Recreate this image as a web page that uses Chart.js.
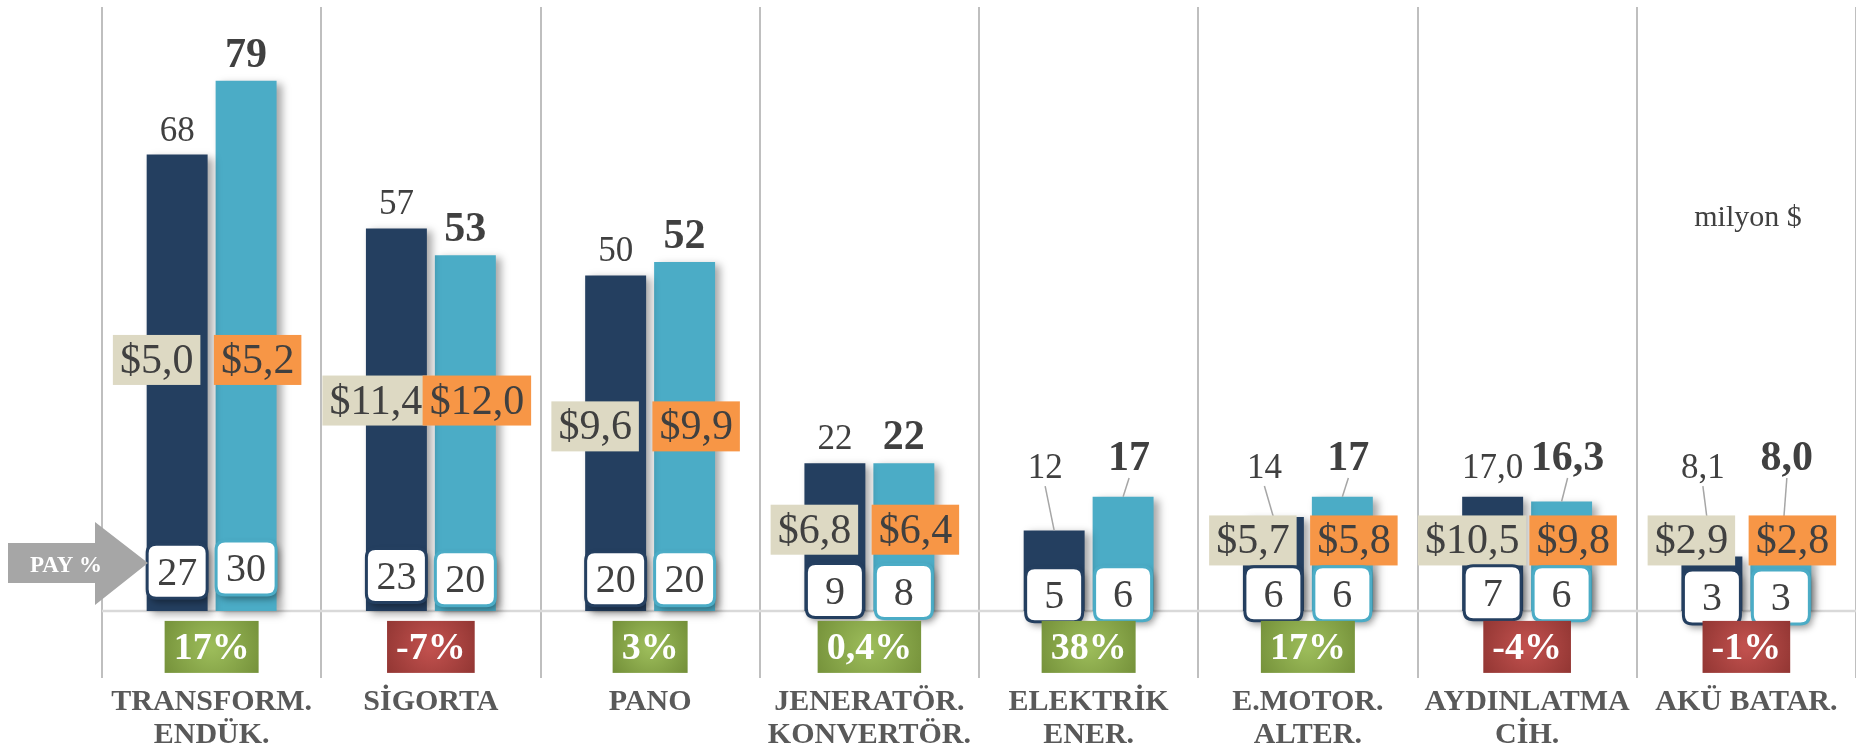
<!DOCTYPE html>
<html>
<head>
<meta charset="utf-8">
<script src="https://cdn.jsdelivr.net/npm/chart.js@4.4.1/dist/chart.umd.min.js"></script>
<style>
  html, body { margin: 0; padding: 0; background: #fff; }
  #kutu { width: 1856px; height: 752px; }
</style>
</head>
<body>
<div id="kutu"><canvas id="grafik"></canvas></div>
<script>
// kategoriler
const kategoriler = [
    ['TRANSFORM.', 'ENDÜK.'],
    ['SİGORTA'],
    ['PANO'],
    ['JENERATÖR.', 'KONVERTÖR.'],
    ['ELEKTRİK', 'ENER.'],
    ['E.MOTOR.', 'ALTER.'],
    ['AYDINLATMA', 'CİH.'],
    ['AKÜ BATAR.']
];

// milyon $ - onceki donem / son donem
const oncekiDeger = [68, 57, 50, 22, 12, 14, 17.0, 8.1];
const sonDeger = [79, 53, 52, 22, 17, 17, 16.3, 8.0];
const ondalik = [0, 0, 0, 0, 0, 0, 1, 1];

// $ kutulari
const oncekiDolar = [5.0, 11.4, 9.6, 6.8, null, 5.7, 10.5, 2.9];
const sonDolar = [5.2, 12.0, 9.9, 6.4, null, 5.8, 9.8, 2.8];

// PAY %
const oncekiPay = [27, 23, 20, 9, 5, 6, 7, 3];
const sonPay = [30, 20, 20, 8, 6, 6, 6, 3];

// degisim %
const degisim = [17, -7, 3, 0.4, 38, 17, -4, -1];

const koyuRenk = '#243F60';
const acikRenk = '#4BACC6';
const yazi = '"Liberation Serif", "Times New Roman", serif';

function sayi(v, d) {
    return v.toFixed(d).replace('.', ',');
}

function yuvarlakKutu(ctx, x, y, w, h, r) {
    ctx.beginPath();
    ctx.moveTo(x + r, y);
    ctx.lineTo(x + w - r, y);
    ctx.quadraticCurveTo(x + w, y, x + w, y + r);
    ctx.lineTo(x + w, y + h - r);
    ctx.quadraticCurveTo(x + w, y + h, x + w - r, y + h);
    ctx.lineTo(x + r, y + h);
    ctx.quadraticCurveTo(x, y + h, x, y + h - r);
    ctx.lineTo(x, y + r);
    ctx.quadraticCurveTo(x, y, x + r, y);
    ctx.closePath();
}

const ekler = {
    id: 'ekler',
    beforeDatasetsDraw(chart) {
        const ctx = chart.ctx;
        const y0 = chart.scales.y.getPixelForValue(0);
        // taban cizgisi
        ctx.save();
        ctx.strokeStyle = '#D9D9D9';
        ctx.lineWidth = 2.5;
        ctx.beginPath();
        ctx.moveTo(chart.chartArea.left, y0);
        ctx.lineTo(chart.chartArea.right, y0);
        ctx.stroke();
        ctx.restore();
        // cubuk golgesi
        ctx.save();
        ctx.shadowColor = 'rgba(0,0,0,0.35)';
        ctx.shadowBlur = 8;
        ctx.shadowOffsetX = 5;
        ctx.shadowOffsetY = 3;
    },
    afterDatasetsDraw(chart) {
        const ctx = chart.ctx;
        ctx.restore();
        const xs = chart.scales.x;
        const ys = chart.scales.y;
        const y0 = ys.getPixelForValue(0);

        // deger etiketleri
        [oncekiDeger, sonDeger].forEach((seri, i) => {
            const meta = chart.getDatasetMeta(i);
            const kalin = i === 1;
            meta.data.forEach((bar, j) => {
                const tavan = ys.getPixelForValue(kalin ? 21 : 19.8);
                const taban = Math.min(bar.y - 14, tavan);
                let lx = bar.x;
                if (bar.y - taban > 20) {
                    lx = bar.x + (kalin ? 6 : -9);
                    ctx.save();
                    ctx.strokeStyle = '#A6A6A6';
                    ctx.lineWidth = 1.5;
                    ctx.beginPath();
                    ctx.moveTo(lx, taban + 8);
                    ctx.lineTo(bar.x, bar.y);
                    ctx.stroke();
                    ctx.restore();
                }
                ctx.save();
                ctx.fillStyle = '#404040';
                ctx.font = (kalin ? 'bold 42px ' : '35px ') + yazi;
                ctx.textAlign = 'center';
                ctx.textBaseline = 'alphabetic';
                ctx.fillText(sayi(seri[j], ondalik[j]), lx, taban);
                ctx.restore();
            });
        });

        // $ kutulari
        kategoriler.forEach((k, j) => {
            if (oncekiDolar[j] == null) return;
            const orta = xs.getPixelForValue(j);
            const cy = ys.getPixelForValue(Math.max(0.55 * oncekiDeger[j], 10.5));
            [[oncekiDolar[j], '#DDD9C3', orta - 55], [sonDolar[j], '#F79646', orta + 46]].forEach(([v, renk, cx]) => {
                ctx.save();
                ctx.font = '42px ' + yazi;
                const metin = '$' + sayi(v, 1);
                const w = ctx.measureText(metin).width + 14;
                const h = 50;
                ctx.fillStyle = renk;
                ctx.fillRect(cx - w / 2, cy - h / 2, w, h);
                ctx.fillStyle = '#404040';
                ctx.textAlign = 'center';
                ctx.textBaseline = 'middle';
                ctx.fillText(metin, cx, cy + 2);
                ctx.restore();
            });
        });

        // PAY kutulari
        [oncekiPay, sonPay].forEach((seri, i) => {
            const meta = chart.getDatasetMeta(i);
            const renk = i === 0 ? koyuRenk : acikRenk;
            meta.data.forEach((bar, j) => {
                const cy = ys.getPixelForValue(1.6 + 0.16 * seri[j]);
                ctx.save();
                ctx.font = '40px ' + yazi;
                const metin = String(seri[j]);
                const w = Math.max(57, ctx.measureText(metin).width + 20);
                const h = 54;
                ctx.shadowColor = 'rgba(0,0,0,0.4)';
                ctx.shadowBlur = 7;
                ctx.shadowOffsetX = 3;
                ctx.shadowOffsetY = 4;
                yuvarlakKutu(ctx, bar.x - w / 2, cy - h / 2, w, h, 9);
                ctx.fillStyle = '#FFFFFF';
                ctx.fill();
                ctx.shadowColor = 'transparent';
                ctx.lineWidth = 3;
                ctx.strokeStyle = renk;
                ctx.stroke();
                ctx.fillStyle = '#404040';
                ctx.textAlign = 'center';
                ctx.textBaseline = 'middle';
                ctx.fillText(metin, bar.x, cy + 3);
                ctx.restore();
            });
        });

        // degisim kutulari
        degisim.forEach((v, j) => {
            const cx = xs.getPixelForValue(j);
            const cy = y0 + 36;
            ctx.save();
            ctx.font = 'bold 38px ' + yazi;
            const metin = sayi(v, v % 1 ? 1 : 0) + '%';
            const w = ctx.measureText(metin).width + 18;
            const h = 52;
            const g = ctx.createRadialGradient(cx, cy, 4, cx, cy, w / 1.6);
            if (v >= 0) {
                g.addColorStop(0, '#9BBB59');
                g.addColorStop(1, '#718D37');
            } else {
                g.addColorStop(0, '#C0504D');
                g.addColorStop(1, '#8E3431');
            }
            ctx.fillStyle = g;
            ctx.fillRect(cx - w / 2, cy - h / 2, w, h);
            ctx.fillStyle = '#FFFFFF';
            ctx.textAlign = 'center';
            ctx.textBaseline = 'middle';
            ctx.fillText(metin, cx, cy + 2);
            ctx.restore();
        });

        // PAY % oku
        const ay = y0 - 48;
        ctx.save();
        ctx.fillStyle = '#A6A6A6';
        ctx.beginPath();
        ctx.moveTo(8, ay - 20);
        ctx.lineTo(95, ay - 20);
        ctx.lineTo(95, ay - 41);
        ctx.lineTo(148, ay);
        ctx.lineTo(95, ay + 42);
        ctx.lineTo(95, ay + 20);
        ctx.lineTo(8, ay + 20);
        ctx.closePath();
        ctx.fill();
        ctx.fillStyle = '#FFFFFF';
        ctx.font = 'bold 23px ' + yazi;
        ctx.textAlign = 'center';
        ctx.textBaseline = 'middle';
        ctx.fillText('PAY %', 66, ay + 3);
        ctx.restore();

        // birim
        ctx.save();
        ctx.fillStyle = '#404040';
        ctx.font = '30px ' + yazi;
        ctx.textAlign = 'center';
        ctx.textBaseline = 'alphabetic';
        ctx.fillText('milyon $', 1748, 226);
        ctx.restore();
    }
};

new Chart(document.getElementById('grafik'), {
    type: 'bar',
    data: {
        labels: kategoriler,
        datasets: [
            {
                data: oncekiDeger,
                backgroundColor: koyuRenk,
                borderWidth: 0,
                categoryPercentage: 0.629,
                barPercentage: 0.884
            },
            {
                data: sonDeger,
                backgroundColor: acikRenk,
                borderWidth: 0,
                categoryPercentage: 0.629,
                barPercentage: 0.884
            }
        ]
    },
    options: {
        responsive: true,
        maintainAspectRatio: false,
        animation: false,
        layout: {
            padding: { left: 102, top: 7, right: -4, bottom: -8 }
        },
        plugins: {
            legend: { display: false },
            tooltip: { enabled: false }
        },
        scales: {
            x: {
                grid: {
                    offset: true,
                    drawTicks: false,
                    lineWidth: 2,
                    color: (c) => c.index === 8 ? 'rgba(0,0,0,0)' : '#BFBFBF'
                },
                border: { display: false },
                ticks: {
                    autoSkip: false,
                    maxRotation: 0,
                    padding: 8,
                    color: '#595959',
                    font: { family: yazi, size: 30, weight: 'bold', lineHeight: 1.1 }
                }
            },
            y: {
                display: false,
                min: -10,
                max: 90
            }
        }
    },
    plugins: [ekler]
});
</script>
</body>
</html>
